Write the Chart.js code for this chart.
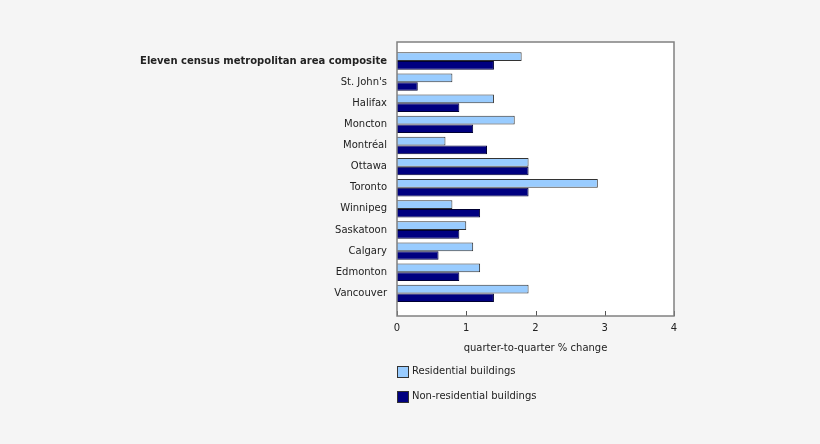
<!DOCTYPE html>
<html>
<head>
<meta charset="utf-8">
<script src="https://cdn.jsdelivr.net/npm/chart.js@4"></script>
<style>
  html, body { margin: 0; padding: 0; background: #f5f5f5; }
  #wrap { position: relative; width: 820px; height: 444px; }
  .legend-item { position: absolute; left: 397px; height: 12px; font: 10px "DejaVu Sans", Verdana, sans-serif; color: #222; }
  .legend-item span.box { position: absolute; left: 0; top: 0; width: 10px; height: 10px; border: 1px solid #333; }
  .legend-item span.txt { position: absolute; left: 15px; top: -1px; white-space: nowrap; }
</style>
</head>
<body>
<div id="wrap">
  <canvas id="chart" width="820" height="444"></canvas>
</div>
<script>
// categories, top to bottom
const categories = [
    'Eleven census metropolitan area composite',
    "St. John's",
    'Halifax',
    'Moncton',
    'Montréal',
    'Ottawa',
    'Toronto',
    'Winnipeg',
    'Saskatoon',
    'Calgary',
    'Edmonton',
    'Vancouver'
];
const residential = [1.8, 0.8, 1.4, 1.7, 0.7, 1.9, 2.9, 0.8, 1.0, 1.1, 1.2, 1.9];
const nonResidential = [1.4, 0.3, 0.9, 1.1, 1.3, 1.9, 1.9, 1.2, 0.9, 0.6, 0.9, 1.4];
const xTicks = [0, 1, 2, 3, 4];

const FONT = '"DejaVu Sans", Verdana, sans-serif';

// white plot area, grey frame and inward tick marks on the x axis
const framePlugin = {
    id: 'frame',
    beforeDraw(chart) {
        const a = chart.chartArea;
        const ctx = chart.ctx;
        ctx.save();
        ctx.fillStyle = '#ffffff';
        ctx.fillRect(a.left, a.top, a.right - a.left, a.bottom - a.top);
        ctx.restore();
    },
    afterDraw(chart) {
        const a = chart.chartArea;
        const ctx = chart.ctx;
        const x = chart.scales.x;
        ctx.save();
        ctx.strokeStyle = '#555';
        ctx.lineWidth = 1;
        x.ticks.forEach(t => {
            const px = Math.round(x.getPixelForValue(t.value)) + 0.5;
            ctx.beginPath();
            ctx.moveTo(px, a.bottom);
            ctx.lineTo(px, a.bottom - 5);
            ctx.stroke();
        });
        ctx.strokeStyle = '#808080';
        ctx.lineWidth = 1.5;
        ctx.strokeRect(a.left, a.top, a.right - a.left, a.bottom - a.top);
        ctx.restore();
    }
};

const datasets = [
    {
        label: 'Residential buildings',
        data: residential.map((v, i) => ({x: v, y: i})),
        backgroundColor: '#99ccff',
        borderColor: '#333333',
        borderWidth: 1
    },
    {
        label: 'Non-residential buildings',
        data: nonResidential.map((v, i) => ({x: v, y: i})),
        backgroundColor: '#000080',
        borderColor: '#000033',
        borderWidth: 1
    }
];

const ctx = document.getElementById('chart').getContext('2d');
new Chart(ctx, {
    type: 'bar',
    data: { datasets: datasets },
    plugins: [framePlugin],
    options: {
        indexAxis: 'y',
        responsive: false,
        animation: false,
        categoryPercentage: 0.824,
        barPercentage: 1,
        layout: {
            padding: { top: 42, right: 146, bottom: 90, left: 0 }
        },
        plugins: {
            legend: { display: false },
            tooltip: { enabled: false }
        },
        scales: {
            y: {
                type: 'linear',
                reverse: true,
                offset: false,
                min: -0.9,
                max: 12.07,
                afterBuildTicks: (s) => {
                    s.ticks = categories.map((c, i) => ({value: i}));
                },
                afterFit: (s) => { s.width = 397; },
                grid: { display: false, drawTicks: false, offset: false },
                border: { display: false },
                ticks: {
                    padding: 10,
                    color: '#222',
                    callback: (v) => categories[v],
                    font: (c) => ({
                        family: FONT,
                        size: 10,
                        weight: c.index === 0 ? 'bold' : 'normal'
                    })
                }
            },
            x: {
                type: 'linear',
                min: 0,
                max: 4,
                afterBuildTicks: (s) => {
                    s.ticks = xTicks.map(v => ({value: v}));
                },
                afterFit: (s) => { s.height = 38; },
                grid: { display: false, drawTicks: false },
                border: { display: false },
                ticks: {
                    padding: 6,
                    color: '#222',
                    font: { family: FONT, size: 10 }
                },
                title: {
                    display: true,
                    text: 'quarter-to-quarter % change',
                    color: '#222',
                    font: { family: FONT, size: 10 },
                    padding: { top: 7, bottom: 0 }
                }
            }
        }
    }
});

// legend under the chart, built from the datasets
const wrap = document.getElementById('wrap');
datasets.forEach((ds, i) => {
    const item = document.createElement('div');
    item.className = 'legend-item';
    item.style.top = (366 + i * 25) + 'px';
    const box = document.createElement('span');
    box.className = 'box';
    box.style.background = ds.backgroundColor;
    const txt = document.createElement('span');
    txt.className = 'txt';
    txt.textContent = ds.label;
    item.appendChild(box);
    item.appendChild(txt);
    wrap.appendChild(item);
});
</script>
</body>
</html>
